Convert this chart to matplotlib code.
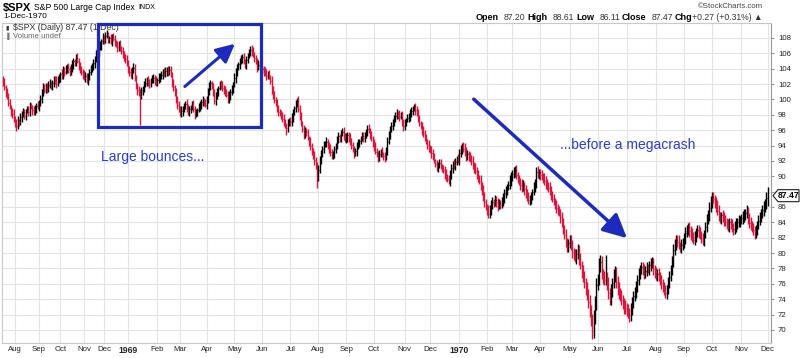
import numpy as np
import pandas as pd
import matplotlib
matplotlib.use("Agg")
import matplotlib.pyplot as plt
from matplotlib.patches import Rectangle, Polygon, FancyArrowPatch

plt.rcParams['font.family'] = ['Liberation Sans', 'DejaVu Sans']

# ---------------- data (daily S&P 500) ----------------
closes_1968 = [
    102.3, 101.6, 100.9, 100.4, 99.6, 99.0, 98.5, 98.1, 97.4, 97.0,
    96.6, 97.2, 97.0, 97.7, 98.1, 98.3, 97.9, 98.5, 98.7, 98.3,
    99.1, 99.0, 98.6, 98.4, 98.8, 99.2, 99.0, 99.6, 100.1, 100.9,
    101.5, 101.2, 101.8, 101.5, 101.9, 102.0, 101.7, 102.2, 102.6, 102.4,
    102.0, 102.5, 102.9, 103.3, 103.1, 103.8, 103.6, 104.0, 104.3, 103.9,
    103.5, 104.0, 104.6, 105.0, 104.8, 105.4, 105.0, 104.4, 104.0, 103.6,
    103.2, 102.8, 103.1, 102.5, 103.0, 103.6, 103.9, 104.3, 104.7, 105.3,
    105.8, 106.2, 106.7, 107.1, 107.6, 108.0, 107.7, 108.3, 108.4, 107.9,
    108.0, 107.6, 108.1, 107.9, 107.4, 107.2, 106.8, 107.1, 106.6, 106.3,
    106.0, 105.5, 105.2, 104.6,
]
closes_1969 = [
    103.9, 103.6, 103.2, 103.8, 104.1, 102.9, 101.7, 101.2, 100.9, 100.5,
    101.2, 101.5, 101.9, 102.2, 102.5, 102.3, 102.0, 102.4, 102.6, 102.8,
    102.5, 102.2, 102.5, 102.9, 103.0, 103.2, 103.5, 103.3, 103.7, 103.9,
    103.6, 103.8, 103.2, 102.2, 101.6, 100.9, 100.1, 99.3, 98.7, 98.2,
    98.5, 98.8, 99.1, 99.4, 98.9, 98.4, 98.7, 99.0, 99.3, 98.7,
    98.1, 98.3, 98.6, 98.9, 99.3, 99.7, 99.9, 99.5, 99.3, 100.1,
    101.0, 101.7, 102.1, 101.6, 101.0, 99.8, 100.4, 101.0, 101.5, 102.0,
    101.8, 101.5, 101.3, 100.9, 100.6, 100.0, 100.5, 101.0, 101.4, 101.9,
    102.8, 103.6, 104.2, 104.6, 104.9, 105.2, 105.5, 105.0, 104.6, 105.1,
    105.7, 106.1, 106.5, 106.3, 105.9, 105.4, 104.9, 104.2, 104.5, 104.3,
    103.8, 104.0, 103.6, 103.4, 103.1, 103.3, 102.9, 102.4, 101.3, 100.6,
    99.9, 99.4, 98.8, 98.4, 98.2, 97.9, 97.5, 97.1, 96.6, 96.3,
    96.9, 97.2, 97.0, 97.6, 98.3, 98.9, 99.4, 99.8, 98.8, 97.9,
    96.9, 96.1, 95.5, 95.9, 95.7, 95.0, 94.5, 93.9, 93.2, 92.7,
    92.1, 91.3, 89.9, 90.8, 92.2, 92.9, 93.6, 94.1, 94.3, 94.5,
    94.0, 93.6, 93.2, 92.6, 93.0, 93.5, 93.9, 94.6, 95.2, 95.0,
    95.6, 95.8, 95.2, 94.7, 95.1, 95.4, 95.0, 94.5, 94.1, 93.5,
    92.9, 93.3, 93.9, 94.3, 94.6, 94.9, 95.2, 95.0, 95.4, 95.8,
    96.2, 95.9, 95.4, 95.0, 94.4, 93.8, 93.2, 92.9, 92.5, 92.9,
    93.2, 92.8, 92.6, 92.5, 93.4, 94.5, 95.4, 96.2, 96.6, 97.0,
    97.4, 97.9, 98.2, 98.0, 97.7, 98.0, 97.0, 96.5, 96.9, 97.3,
    97.6, 97.8, 98.1, 98.5, 98.8, 99.1, 98.6, 98.2, 97.6, 96.9,
    96.5, 96.0, 95.6, 95.0, 94.5, 94.1, 93.7, 93.4, 93.0, 92.6,
    92.0, 91.6, 91.2, 91.5, 91.7, 91.3, 91.0, 90.8, 90.3, 89.9,
    89.6, 89.3, 90.2, 91.1, 91.6, 91.4, 91.9, 92.2, 92.1,
]
closes_1970 = [
    93.0, 93.5, 93.9, 93.6, 93.2, 92.7, 92.9, 92.5, 92.3, 92.0,
    91.4, 91.1, 90.7, 90.2, 89.8, 89.4, 88.8, 88.2, 87.3, 86.6,
    86.0, 85.6, 85.1, 85.6, 86.4, 86.7, 86.5, 86.9, 86.6, 86.2,
    86.5, 86.3, 86.6, 87.2, 87.8, 88.1, 88.6, 88.9, 89.4, 89.9,
    90.3, 90.6, 90.8, 90.2, 89.6, 89.3, 88.9, 88.6, 88.9, 88.3,
    87.8, 87.2, 86.9, 87.0, 87.4, 87.9, 88.5, 89.2, 90.6, 90.3,
    90.5, 90.2, 89.9, 89.7, 89.4, 89.1, 88.8, 88.5, 88.1, 87.6,
    87.1, 86.8, 86.2, 85.9, 85.5, 85.3, 84.7, 84.0, 83.2, 82.3,
    81.4, 80.9, 81.3, 81.7, 80.9, 80.1, 79.8, 79.4, 79.9, 80.4,
    79.3, 78.5, 77.6, 76.9, 76.2, 75.4, 74.6, 73.6, 72.6, 71.3,
    69.8, 71.6, 73.5, 75.9, 76.6, 78.4, 78.9, 77.3, 76.8, 76.5,
    76.8, 76.1, 74.8, 74.0, 75.2, 76.1, 77.0, 77.6, 76.2, 75.5,
    74.8, 74.4, 73.9, 73.5, 73.0, 72.8, 72.6, 72.2, 71.9, 72.8,
    73.5, 74.4, 74.9, 75.6, 76.5, 77.4, 77.9, 78.2, 77.8, 77.4,
    77.7, 78.1, 78.0, 78.4, 78.6, 78.8, 77.9, 77.5, 77.1, 77.3,
    76.9, 76.5, 76.1, 75.6, 75.2, 74.8, 75.3, 76.1, 76.9, 77.8,
    78.9, 80.4, 81.2, 81.7, 81.5, 81.0, 80.8, 81.1, 81.3, 81.9,
    82.6, 83.0, 83.4, 82.9, 82.4, 82.0, 81.7, 82.3, 82.7, 83.0,
    82.6, 82.3, 81.9, 81.7, 82.5, 83.4, 84.3, 85.0, 85.9, 86.6,
    87.3, 87.1, 86.7, 86.1, 85.5, 84.8, 84.6, 84.9, 84.7, 84.2,
    84.0, 83.7, 83.6, 84.0, 83.7, 83.3, 83.1, 83.4, 83.8, 84.0,
    84.2, 84.3, 84.5, 84.7, 85.0, 85.2, 85.5, 84.6, 83.9, 83.5,
    83.3, 83.0, 82.6, 83.0, 83.6, 84.2, 84.7, 85.2, 85.6, 86.0,
    86.4, 87.2, 87.47,
]
first_open = 102.6

# intraday extension above / below the open-close body, in tenths of a point
hi_ext = [
    4,5,3,6,4,5,3,4,6,5,4,7,3,5,4,6,5,3,4,5,6,4,3,5,
    5,4,6,3,5,4,6,5,3,4,5,6,4,3,5,4,6,5,4,3,6,5,4,5,
    3,5,4,6,5,4,3,5,6,4,5,3,4,6,5,4,5,3,6,4,5,4,6,5,
    4,5,3,6,4,5,6,4,3,5,4,6,5,3,4,5,6,4,5,3,4,6,5,4,
    5,4,6,5,3,4,6,5,4,3,5,6,4,5,3,4,6,5,4,5,3,6,4,5,
    4,6,5,3,4,5,6,4,5,3,6,4,5,4,6,3,5,4,6,5,4,3,5,6,
    5,4,3,6,5,4,5,3,6,4,5,6,4,3,5,4,6,5,3,4,5,6,4,5,
    4,5,6,3,5,4,6,5,4,3,5,6,4,5,3,6,4,5,4,6,5,3,4,5,
    6,4,5,3,4,6,5,4,5,3,6,4,5,4,6,5,3,4,5,6,4,3,5,4,
    5,6,4,3,5,4,6,5,4,3,6,5,4,5,3,6,4,5,6,4,5,6,4,5,
    4,5,3,6,4,5,6,4,3,5,4,6,5,3,4,5,6,4,5,3,4,6,5,4,
    5,4,6,5,3,4,6,5,4,3,5,6,4,5,3,4,6,5,4,5,3,6,4,5,
    4,6,5,3,4,5,6,4,5,3,6,4,5,4,6,3,5,4,6,5,4,3,5,6,
    5,4,3,6,5,4,5,3,6,4,5,6,4,3,5,4,6,5,3,4,5,6,4,5,
    6,5,4,6,5,4,7,5,6,4,5,7,6,5,4,6,5,7,4,6,5,6,4,7,
    5,6,7,5,4,6,7,5,6,4,7,5,6,5,4,7,6,5,6,4,5,7,6,5,
    6,5,7,4,6,5,7,6,4,5,6,7,5,6,4,7,5,6,7,5,4,6,5,7,
    6,5,4,7,6,5,6,4,7,5,6,5,7,6,4,8,6,5,7,6,8,5,7,6,
    8,6,7,5,8,7,6,8,7,9,6,8,10,9,8,7,9,8,7,6,8,30,7,8,
    7,8,6,9,7,6,8,7,6,8,7,6,9,7,8,6,7,8,6,7,8,6,7,6,
    7,6,8,6,7,5,6,8,7,6,5,7,6,8,6,7,5,6,7,6,8,7,6,7,
    8,6,7,6,8,5,7,6,7,8,6,5,7,6,8,7,6,5,7,6,8,6,7,5,
    7,8,6,7,8,6,7,5,6,8,7,6,5,7,6,8,6,7,5,6,7,6,8,7,
    6,7,5,6,8,7,6,7,5,6,8,7,6,5,7,6,8,7,6,7,8,6,7,11,
]
lo_ext = [
    5,4,6,4,5,3,6,5,4,6,7,4,5,3,6,4,5,6,3,4,5,3,6,4,
    4,6,3,5,4,6,5,3,4,6,5,4,3,5,6,4,5,3,4,6,5,4,5,3,
    6,4,5,3,4,6,5,4,3,6,5,4,6,3,5,4,6,5,4,3,5,6,4,5,
    5,3,6,4,5,4,3,6,5,4,6,3,5,4,6,5,3,4,6,5,4,3,5,6,
    4,6,3,5,4,6,5,38,4,6,5,3,4,6,5,4,3,5,6,4,5,3,6,4,
    5,3,4,6,5,4,3,6,5,4,6,5,3,4,5,6,4,3,5,4,6,5,4,3,
    6,4,5,3,4,6,5,4,3,5,6,4,5,3,6,4,5,4,6,3,5,4,6,5,
    3,5,4,6,4,5,3,6,5,4,6,3,5,4,5,6,4,3,5,6,4,5,3,6,
    4,5,6,3,5,4,6,5,3,4,6,5,4,3,5,6,4,5,4,6,3,9,5,4,
    5,4,6,3,5,4,5,6,3,4,6,5,4,3,6,5,4,5,6,4,14,5,4,6,
    4,6,3,5,4,6,5,3,4,6,5,4,3,5,6,4,5,3,4,6,5,4,5,3,
    5,3,6,4,5,4,3,6,5,4,6,3,5,4,6,5,3,4,6,5,4,3,5,6,
    4,6,3,5,4,6,5,4,4,6,5,3,4,6,5,4,3,5,6,4,5,3,6,4,
    5,3,4,6,5,4,3,6,5,4,6,5,3,4,5,6,4,3,5,4,6,5,4,3,
    6,5,7,4,6,5,4,7,5,6,4,5,7,6,5,4,6,5,7,4,6,5,4,6,
    7,5,6,4,7,6,5,7,6,5,4,6,7,5,6,4,5,7,6,5,4,6,7,5,
    5,7,6,5,4,7,6,5,7,6,4,5,7,6,5,4,6,7,5,6,7,4,6,5,
    7,6,5,6,7,4,6,5,7,6,5,8,6,7,5,6,8,7,6,5,8,7,6,8,
    7,8,6,9,7,8,9,7,8,9,8,10,9,8,9,7,8,9,7,8,6,7,9,8,
    8,7,9,6,8,7,9,8,7,6,8,9,7,8,6,9,7,8,7,6,8,7,6,8,
    6,7,8,6,7,6,8,7,6,7,8,6,7,5,6,8,7,6,7,8,6,7,5,6,
    7,6,8,7,5,6,8,7,6,7,5,6,8,7,6,5,7,8,6,7,5,6,7,8,
    6,7,5,8,6,7,6,8,7,5,6,7,8,6,7,5,6,7,8,6,5,7,6,7,
    7,6,8,5,7,6,7,6,8,7,5,6,7,8,6,7,5,6,7,6,8,7,6,11,
]

market_holidays = [
    "1968-09-02", "1968-11-05", "1968-11-28",
    "1969-01-01", "1969-02-10", "1969-02-12", "1969-02-21", "1969-03-31",
    "1969-04-04", "1969-05-30", "1969-07-04", "1969-07-21", "1969-09-01",
    "1969-11-27", "1969-12-25",
    "1970-01-01", "1970-02-23", "1970-03-27", "1970-07-03", "1970-09-07",
    "1970-11-26",
]
y_ticks = list(range(70, 109, 2))

# ---------------- build OHLC ----------------
closes = np.array(closes_1968 + closes_1969 + closes_1970, dtype=float)
n = len(closes)
opens = np.concatenate([[first_open], closes[:-1]])
hx = np.array(hi_ext[:n], dtype=float) / 10.0
lx = np.array(lo_ext[:n], dtype=float) / 10.0
highs = np.maximum(opens, closes) + hx
lows = np.minimum(opens, closes) - lx

days = pd.bdate_range("1968-07-16", "1970-12-01")
days = days[~days.isin(pd.to_datetime(market_holidays))]
wed68 = (days >= "1968-06-12") & (days <= "1968-12-31") & (days.weekday == 2)
days = days[~wed68]
days = days[-n:]

pos = np.arange(n)
up = closes >= opens
colors = np.where(up, "#000000", "#dc143c")

# ---------------- figure ----------------
W, H = 800, 358
fig = plt.figure(figsize=(W / 100, H / 100), dpi=100)
def fx(px): return px / W
def fy(py): return 1 - py / H

ax_left, ax_right, ax_top, ax_bot = 2, 771, 23, 343
ax = fig.add_axes([fx(ax_left), fy(ax_bot), (ax_right - ax_left) / W, (ax_bot - ax_top) / H])

ax.vlines(pos, lows, highs, colors=colors, linewidth=1.0, zorder=3)
ax.hlines(closes, pos, pos + 0.45, colors=colors, linewidth=0.8, zorder=3)

ax.set_xlim(-0.75, 577.4)
ax.set_ylim(68.29, 109.95)

# month ticks
mo = days.month
starts = [i for i in range(1, n) if mo[i] != mo[i - 1]]
labels = [str(days[i].year) if days[i].month == 1 else days[i].strftime("%b") for i in starts]
ax.set_xticks(starts)
ax.set_xticklabels(labels, fontsize=5.6, color="#222222")
for t in ax.get_xticklabels():
    if t.get_text().isdigit():
        t.set_fontweight("bold")
        t.set_fontsize(6.2)
ax.tick_params(axis="x", length=0, pad=2.5)

ax.yaxis.tick_right()
ax.set_yticks(y_ticks)
ax.set_yticklabels([str(v) for v in y_ticks], fontsize=5.6, color="#222222")
ax.tick_params(axis="y", length=2, pad=3, color="#999999")

ax.grid(True, color="#e4e4e4", linewidth=0.8, zorder=0)
ax.set_axisbelow(True)
for s in ax.spines.values():
    s.set_color("#c8c8c8")
    s.set_linewidth(0.8)
ax.spines["right"].set_color("#999999")

renderer = fig.canvas.get_renderer()

def run_left(x0, yp, parts):
    x = x0
    for txt, kw, gap in parts:
        t = fig.text(fx(x), fy(yp), txt, va="center", ha="left", **kw)
        x += t.get_window_extent(renderer).width + gap
    return x

def run_right(x1, yp, parts):
    x = x1
    for txt, kw, gap in reversed(parts):
        t = fig.text(fx(x), fy(yp), txt, va="center", ha="right", **kw)
        x -= t.get_window_extent(renderer).width + gap
    return x

# legend text inside plot
fig.text(fx(5), fy(27.5), "\u25AE", fontsize=4.5, color="#333333", va="center")
fig.text(fx(5), fy(36), "\u2590", fontsize=4.5, color="#777777", va="center")
fig.text(fx(13), fy(27.5), "$SPX (Daily) 87.47 (1 Dec)", fontsize=6.3, color="#333333", va="center")
fig.text(fx(13), fy(36), "Volume undef", fontsize=5.6, color="#666666", va="center")

# header
run_left(3, 7.5, [("$SPX", dict(fontsize=8, fontweight="bold"), 3),
                  ("S&P 500 Large Cap Index", dict(fontsize=6.2), 3),
                  ("INDX", dict(fontsize=5.0), 0)])
fig.text(fx(3), fy(17), "1-Dec-1970", fontsize=6, va="center")

fig.text(fx(763), fy(6), "\u00a9StockCharts.com", fontsize=5.6, color="#444444", va="center", ha="right")
B = dict(fontsize=6.5, fontweight="bold", color="#000000")
R = dict(fontsize=6.2, color="#333333")
run_right(763, 17, [("Open", B, 2), ("87.20", R, 5), ("High", B, 2), ("88.61", R, 5),
                    ("Low", B, 2), ("86.11", R, 5), ("Close", B, 2), ("87.47", R, 5),
                    ("Chg", B, 2), ("+0.27 (+0.31%) \u25B2", R, 0)])

# last value tag
yl = ax.transData.transform((0, closes[-1]))[1]
tag = Polygon([(773, yl), (778, yl + 6), (799, yl + 6), (799, yl - 6), (778, yl - 6)],
              closed=True, transform=None, facecolor="white", edgecolor="#222222",
              linewidth=0.8, zorder=10)
fig.patches.append(tag)
fig.text(788.5 / W, yl / H, "87.47", fontsize=6.2, fontweight="bold", ha="center", va="center", zorder=11)

# annotations
blue = "#1c2bbd"
rect = Rectangle((fx(98.3), fy(126.7)), (260.7 - 98.3) / W, (126.7 - 24) / H,
                 transform=fig.transFigure, fill=False, edgecolor=blue, linewidth=2.3, zorder=5)
fig.patches.append(rect)

a1 = FancyArrowPatch((fx(182.7), fy(88.3)), (fx(237), fy(42)), transform=fig.transFigure,
                     arrowstyle="-|>,head_length=0.8,head_width=0.4", mutation_scale=14,
                     color=blue, linewidth=2.2, zorder=5)
fig.patches.append(a1)
a2 = FancyArrowPatch((fx(471.7), fy(97.3)), (fx(629), fy(240)), transform=fig.transFigure,
                     arrowstyle="-|>,head_length=0.9,head_width=0.45", mutation_scale=16,
                     color=blue, linewidth=2.5, zorder=5)
fig.patches.append(a2)

fig.text(fx(101.5), fy(157), "Large bounces...", fontsize=10, color="#2b3dcc", va="center")
fig.text(fx(560), fy(145), "...before a megacrash", fontsize=10, color="#2b3dcc", va="center")

fig.savefig("out.png", dpi=100, facecolor="white")
